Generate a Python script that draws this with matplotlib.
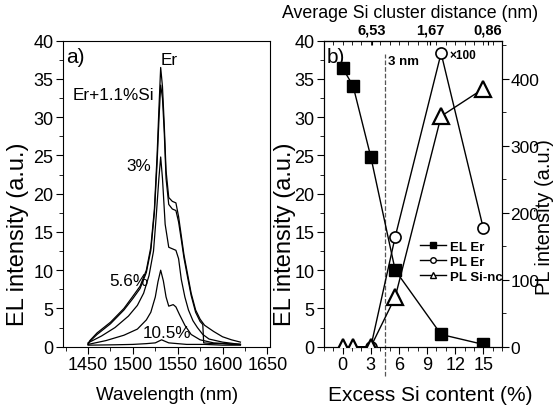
import numpy as np
import matplotlib
matplotlib.use('Agg')
import matplotlib.pyplot as plt
from matplotlib.lines import Line2D
from matplotlib.ticker import MultipleLocator

plt.rcParams['font.family'] = ['Liberation Sans', 'DejaVu Sans']

# ---------------- panel a: EL spectra ----------------
wl_er = [1450, 1452, 1460, 1475, 1490, 1500, 1508, 1515, 1520, 1524, 1527, 1529, 1531, 1533,
         1535, 1537, 1540, 1544, 1548, 1551, 1554, 1557, 1561, 1565, 1570, 1575, 1580, 1590,
         1600, 1610, 1620]
el_er = [0.4, 0.8, 1.8, 3.2, 5.0, 6.6, 7.9, 10.0, 13.0, 18.0, 25.0, 31.0, 36.5, 34.0,
         29.0, 23.0, 19.5, 19.0, 18.8, 17.0, 14.5, 12.0, 9.5, 7.0, 4.8, 3.6, 2.8, 2.0,
         1.3, 0.9, 0.6]

wl_er11 = [1450, 1452, 1460, 1475, 1490, 1500, 1508, 1515, 1520, 1524, 1527, 1529, 1531, 1533,
           1535, 1537, 1540, 1544, 1548, 1551, 1554, 1557, 1561, 1565, 1570, 1575, 1578, 1579,
           1590, 1600, 1610, 1620]
el_er11 = [0.3, 0.7, 1.6, 3.0, 4.8, 6.3, 7.6, 9.7, 12.6, 17.5, 24.0, 29.5, 34.2, 32.5,
           28.0, 22.0, 18.6, 18.0, 17.8, 16.3, 14.0, 11.6, 9.1, 6.7, 4.5, 3.3, 2.9, 0.5,
           0.4, 0.4, 0.3, 0.3]

wl_3 = [1450, 1465, 1480, 1495, 1505, 1512, 1518, 1523, 1526, 1529, 1531, 1533, 1536, 1540,
        1544, 1548, 1551, 1554, 1558, 1562, 1567, 1572, 1578, 1585, 1600, 1620]
el_3 = [0.5, 1.4, 2.5, 4.0, 5.4, 7.0, 9.3, 12.5, 17.0, 22.0, 24.8, 22.0, 16.0, 13.0,
        12.8, 12.6, 11.5, 8.8, 6.5, 4.8, 3.4, 2.5, 1.6, 1.0, 0.6, 0.3]

wl_56 = [1450, 1470, 1490, 1505, 1515, 1520, 1525, 1528, 1531, 1534, 1537, 1540, 1545, 1548,
         1552, 1558, 1565, 1575, 1590, 1605, 1620]
el_56 = [0.3, 0.8, 1.5, 2.3, 3.5, 4.5, 6.5, 8.5, 10.0, 8.6, 6.5, 5.3, 5.5, 5.2,
         4.2, 2.8, 1.6, 0.9, 0.5, 0.4, 0.3]

wl_105 = [1450, 1480, 1500, 1515, 1525, 1532, 1540, 1550, 1560, 1580, 1600, 1620]
el_105 = [0.2, 0.25, 0.3, 0.4, 0.5, 0.9, 0.5, 0.4, 0.3, 0.3, 0.2, 0.2]

# ---------------- panel b: vs excess Si ----------------
si_el = [0, 1.1, 3, 5.6, 10.5, 15]
el_er_int = [36.4, 34.1, 24.8, 10.0, 1.6, 0.3]

si_pl_er = [3, 5.6, 10.5, 15]
pl_er = [0, 164, 438, 177]

si_pl_nc = [0, 1.1, 3, 5.6, 10.5, 15]
pl_nc = [0, 0, 0, 74, 344, 385]

top_pos = [3.1, 9.3, 15.5]
top_labels = ['6,53', '1,67', '0,86']

fig = plt.figure(figsize=(5.57, 4.10), dpi=100)


def style_ticks(ax, size=13):
    ax.tick_params(which='both', direction='out', labelsize=size)
    ax.tick_params(which='major', length=5, pad=2)
    ax.tick_params(which='minor', length=3)


def place_label(axis, x, y):
    # centre the axis label on the given axes-fraction point
    axis.set_label_coords(x, y)
    axis.label.set_va('center')
    axis.label.set_ha('center')


# ---- panel a ----
ax_a = fig.add_axes([63/557, 1-347.7/410, 207/557, 306/410])
for wl, el in [(wl_er, el_er), (wl_er11, el_er11), (wl_3, el_3), (wl_56, el_56), (wl_105, el_105)]:
    ax_a.plot(wl, el, '-', color='black', lw=0.9)
ax_a.set_xlim(1422, 1653)
ax_a.set_ylim(0, 40)
ax_a.xaxis.set_major_locator(MultipleLocator(50))
ax_a.xaxis.set_minor_locator(MultipleLocator(25))
ax_a.yaxis.set_major_locator(MultipleLocator(5))
ax_a.yaxis.set_minor_locator(MultipleLocator(2.5))
style_ticks(ax_a)
ax_a.tick_params(top=False, right=False)
ax_a.set_xlabel('Wavelength (nm)', fontsize=13.5)
place_label(ax_a.xaxis, 0.502, -0.155)
ax_a.set_ylabel('EL intensity (a.u.)', fontsize=17)
place_label(ax_a.yaxis, -0.217, 0.37)
ax_a.text(1426, 37.2, 'a)', fontsize=15)
ax_a.text(1541, 37.6, 'Er', fontsize=12.3, ha='center', va='center')
ax_a.text(1478, 33.0, 'Er+1.1%Si', fontsize=12.3, ha='center', va='center')
ax_a.text(1506, 23.7, '3%', fontsize=12.3, ha='center', va='center')
ax_a.text(1495, 8.6, '5.6%', fontsize=12.3, ha='center', va='center')
ax_a.text(1538, 1.9, '10.5%', fontsize=12.3, ha='center', va='center')

# ---- panel b ----
ax_b = fig.add_axes([324/557, 1-347.7/410, 178/557, 306/410])
ax_b.plot(si_el, el_er_int, '-', color='black', lw=1.0, marker='s', ms=8,
          mfc='black', mec='black', zorder=3)
ax_b.plot([4.5, 4.5], [-3.8, 38.3], '--', color='#555555', lw=0.9, clip_on=False)
ax_b.set_xlim(-2, 17)
ax_b.set_ylim(0, 40)
ax_b.xaxis.set_major_locator(MultipleLocator(3))
ax_b.xaxis.set_minor_locator(MultipleLocator(1))
ax_b.yaxis.set_major_locator(MultipleLocator(5))
ax_b.yaxis.set_minor_locator(MultipleLocator(2.5))
style_ticks(ax_b)
ax_b.tick_params(top=False)
ax_b.set_xlabel('Excess Si content (%)', fontsize=15)
place_label(ax_b.xaxis, 0.596, -0.155)
ax_b.set_ylabel('EL intensity (a.u.)', fontsize=17)
place_label(ax_b.yaxis, -0.219, 0.37)
ax_b.text(-1.7, 37.2, 'b)', fontsize=15)
ax_b.text(4.8, 37.0, '3 nm', fontsize=9.5, fontweight='bold')
ax_b.text(11.4, 38.1, '\u00d7100', fontsize=8.5, fontweight='bold', va='center')

ax_pl = ax_b.twinx()
ax_pl.plot(si_pl_er, pl_er, '-', color='black', lw=1.0, marker='o', ms=8,
           mfc='white', mec='black', mew=1.2, zorder=3)
ax_pl.plot(si_pl_nc, pl_nc, '-', color='black', lw=1.0, marker='^', ms=11,
           mfc='white', mec='black', mew=1.6, zorder=3)
ax_pl.set_ylim(0, 456.7)
ax_pl.yaxis.set_major_locator(MultipleLocator(100))
ax_pl.yaxis.set_minor_locator(MultipleLocator(50))
style_ticks(ax_pl, size=12.5)
ax_pl.tick_params(which='major', pad=1)
ax_pl.set_ylabel('PL intensity (a.u.)', fontsize=14.5)
place_label(ax_pl.yaxis, 1.24, 0.427)

top = ax_b.secondary_xaxis('top')
top.set_xticks(top_pos)
top.set_xticklabels(top_labels, fontsize=10.5, fontweight='bold')
top.xaxis.set_minor_locator(MultipleLocator(1))
top.tick_params(which='both', direction='in', length=3, pad=3)
fig.text(410/557, 1 - 13/410, 'Average Si cluster distance (nm)', fontsize=12.8,
         ha='center', va='center')

handles = [
    Line2D([], [], color='black', lw=1, marker='s', ms=4, mfc='black'),
    Line2D([], [], color='black', lw=1, marker='o', ms=4, mfc='white'),
    Line2D([], [], color='black', lw=1, marker='^', ms=5, mfc='white'),
]
ax_pl.legend(handles, ['EL Er', 'PL Er', 'PL Si-nc'], loc='upper left',
             bbox_to_anchor=(0.47, 0.385), frameon=False, handlelength=2.0,
             handletextpad=0.3, labelspacing=0.2, prop={'size': 9.5, 'weight': 'bold'})

fig.savefig('out.png', dpi=100)
